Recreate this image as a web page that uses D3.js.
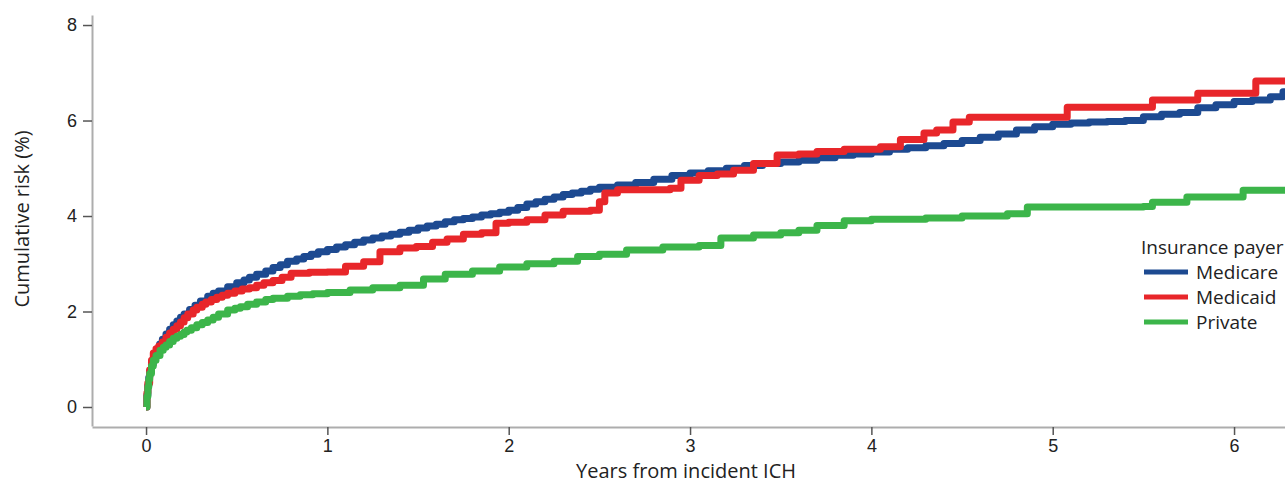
<!DOCTYPE html>
<html>
<head>
<meta charset="utf-8">
<script src="https://cdn.jsdelivr.net/npm/d3@7"></script>
<style>
  body { margin: 0; background: #fff; }
  svg { display: block; font-family: "Open Sans", "Noto Sans", sans-serif; }
  .axis path.domain { stroke: #adadad; stroke-width: 2; }
  .axis .tick line { stroke: #555; stroke-width: 1.5; }
  .axis .tick text { font-size: 18px; fill: #222; }
  .title { font-size: 20px; fill: #222; }
  .label { font-size: 19px; fill: #222; }
</style>
</head>
<body>
<svg width="1285" height="484"></svg>
<script>
// **** Data (years, cumulative risk %) ****

var medicare = [
  [0,0],[0.005,0.25],[0.01,0.45],[0.015,0.62],[0.02,0.75],[0.03,0.9],[0.04,1.02],
  [0.05,1.13],[0.06,1.22],[0.075,1.32],[0.09,1.42],[0.11,1.53],[0.13,1.63],
  [0.15,1.72],[0.17,1.8],[0.19,1.88],[0.21,1.95],[0.24,2.04],[0.27,2.13],
  [0.3,2.22],[0.34,2.32],[0.37,2.38],[0.4,2.43],[0.45,2.52],[0.5,2.6],[0.54,2.66],
  [0.57,2.72],[0.61,2.78],[0.66,2.85],[0.7,2.92],[0.74,2.98],[0.78,3.05],
  [0.83,3.1],[0.87,3.15],[0.91,3.2],[0.95,3.25],[1.0,3.3],[1.05,3.35],[1.1,3.4],
  [1.15,3.45],[1.2,3.5],[1.25,3.54],[1.3,3.58],[1.35,3.62],[1.4,3.66],[1.45,3.7],
  [1.5,3.75],[1.55,3.79],[1.6,3.83],[1.65,3.88],[1.7,3.92],[1.75,3.95],[1.8,3.98],
  [1.85,4.02],[1.9,4.05],[1.95,4.08],[2.0,4.12],[2.05,4.18],[2.1,4.25],[2.15,4.3],
  [2.2,4.35],[2.25,4.4],[2.3,4.45],[2.35,4.48],[2.4,4.52],[2.45,4.56],[2.5,4.6],
  [2.6,4.65],[2.7,4.7],[2.8,4.77],[2.9,4.85],[3.0,4.9],[3.1,4.95],[3.2,5.0],
  [3.3,5.06],[3.4,5.1],[3.5,5.13],[3.6,5.17],[3.7,5.22],[3.8,5.27],[3.9,5.3],
  [4.0,5.34],[4.1,5.4],[4.2,5.43],[4.3,5.47],[4.4,5.52],[4.5,5.58],[4.6,5.65],
  [4.7,5.72],[4.8,5.8],[4.9,5.87],[5.0,5.92],[5.1,5.95],[5.2,5.97],[5.3,5.98],
  [5.4,6.0],[5.5,6.08],[5.6,6.13],[5.7,6.17],[5.8,6.27],[5.9,6.33],[6.0,6.4],
  [6.1,6.43],[6.2,6.5],[6.27,6.6],[6.3,6.6]
];

var medicaid = [
  [0,0],[0.005,0.3],[0.01,0.5],[0.02,0.78],[0.03,0.98],[0.04,1.13],[0.055,1.22],
  [0.07,1.28],[0.09,1.36],[0.11,1.46],[0.13,1.55],[0.15,1.63],[0.17,1.7],
  [0.19,1.78],[0.21,1.87],[0.23,1.95],[0.26,2.03],[0.28,2.09],[0.31,2.15],
  [0.33,2.2],[0.36,2.25],[0.39,2.3],[0.42,2.34],[0.45,2.38],[0.49,2.43],
  [0.53,2.47],[0.57,2.5],[0.61,2.55],[0.65,2.6],[0.7,2.65],[0.75,2.72],[0.8,2.8],
  [0.9,2.82],[1.0,2.83],[1.1,2.95],[1.2,3.04],[1.29,3.25],[1.4,3.33],[1.49,3.36],
  [1.58,3.45],[1.66,3.52],[1.75,3.62],[1.85,3.65],[1.93,3.85],[2.0,3.87],
  [2.1,3.92],[2.2,4.02],[2.3,4.1],[2.45,4.12],[2.5,4.3],[2.53,4.48],[2.6,4.55],
  [2.89,4.58],[2.95,4.75],[3.05,4.85],[3.15,4.88],[3.24,4.96],[3.35,5.1],
  [3.48,5.28],[3.6,5.3],[3.7,5.35],[3.85,5.4],[4.05,5.45],[4.16,5.6],[4.29,5.74],
  [4.36,5.8],[4.45,5.97],[4.54,6.07],[5.08,6.28],[5.55,6.43],[5.8,6.57],
  [6.12,6.83],[6.3,6.83]
];

var privateIns = [
  [0,0],[0.005,0.22],[0.01,0.42],[0.015,0.58],[0.02,0.7],[0.03,0.86],[0.04,0.98],
  [0.055,1.08],[0.077,1.19],[0.095,1.25],[0.11,1.3],[0.13,1.37],[0.15,1.44],
  [0.17,1.48],[0.19,1.52],[0.21,1.57],[0.225,1.61],[0.25,1.66],[0.28,1.72],
  [0.31,1.77],[0.34,1.82],[0.37,1.88],[0.4,1.95],[0.45,2.03],[0.49,2.07],
  [0.52,2.1],[0.56,2.15],[0.61,2.2],[0.66,2.25],[0.7,2.28],[0.78,2.32],
  [0.85,2.35],[0.92,2.37],[1.0,2.4],[1.125,2.45],[1.25,2.5],[1.4,2.55],
  [1.53,2.68],[1.65,2.78],[1.8,2.85],[1.95,2.93],[2.1,3.0],[2.25,3.05],
  [2.38,3.15],[2.5,3.2],[2.65,3.29],[2.85,3.35],[3.05,3.38],[3.17,3.54],
  [3.35,3.6],[3.5,3.65],[3.6,3.7],[3.7,3.8],[3.85,3.9],[4.0,3.93],[4.3,3.96],
  [4.5,4.0],[4.75,4.05],[4.86,4.19],[5.5,4.2],[5.55,4.29],[5.74,4.4],[6.05,4.54],
  [6.3,4.54]
];

var seriesNames = ['Medicare', 'Medicaid', 'Private'];
var seriesColors = ['#1d4a91', '#e8262a', '#3cb54a'];
var xTicks = [0, 1, 2, 3, 4, 5, 6];
var yTicks = [0, 2, 4, 6, 8];

// **** Scales and axes ****

var svg = d3.select('svg');

var xScale = d3.scaleLinear().domain([-0.298, 6.281]).range([92, 1285]);
var yScale = d3.scaleLinear().domain([-0.398, 8.21]).range([426, 15]);

svg.append('g').attr('class', 'x axis')
    .attr('transform', 'translate(0,427)')
    .call(d3.axisBottom(xScale).tickValues(xTicks).tickFormat(d3.format('d'))
        .tickSize(8).tickSizeOuter(0).tickPadding(4));

svg.append('g').attr('class', 'y axis')
    .attr('transform', 'translate(92,0)')
    .call(d3.axisLeft(yScale).tickValues(yTicks).tickFormat(d3.format('d'))
        .tickSize(9).tickSizeOuter(0).tickPadding(6));

svg.append('text')
    .attr('class', 'title')
    .attr('text-anchor', 'middle')
    .attr('transform', 'translate(686,478)')
    .text('Years from incident ICH');

svg.append('text')
    .attr('class', 'title')
    .attr('text-anchor', 'middle')
    .attr('transform', 'translate(29,219) rotate(-90)')
    .text('Cumulative risk (%)');

// **** Lines ****

var line = d3.line()
    .x(function(d) { return xScale(d[0]); })
    .y(function(d) { return yScale(d[1]); })
    .curve(d3.curveStepAfter);

var allSeries = [medicare, medicaid, privateIns];

svg.selectAll('path.km')
    .data(allSeries)
    .enter()
    .append('path')
    .attr('class', 'km')
    .attr('d', line)
    .style('fill', 'none')
    .style('stroke', function(d, i) { return seriesColors[i]; })
    .style('stroke-width', 7)
    .style('stroke-linejoin', 'round');

// **** Legend ****

var legend = svg.append('g').attr('transform', 'translate(1141,0)');

legend.append('text')
    .attr('class', 'label')
    .attr('x', 0)
    .attr('y', 254)
    .text('Insurance payer');

var items = legend.selectAll('g.item')
    .data(seriesNames)
    .enter()
    .append('g')
    .attr('class', 'item')
    .attr('transform', function(d, i) { return 'translate(0,' + (272 + i * 25) + ')'; });

items.append('line')
    .attr('x1', 3).attr('x2', 47)
    .attr('y1', 0).attr('y2', 0)
    .style('stroke', function(d, i) { return seriesColors[i]; })
    .style('stroke-width', 5);

items.append('text')
    .attr('class', 'label')
    .attr('x', 55)
    .attr('y', 7)
    .text(function(d) { return d; });
</script>
</body>
</html>
